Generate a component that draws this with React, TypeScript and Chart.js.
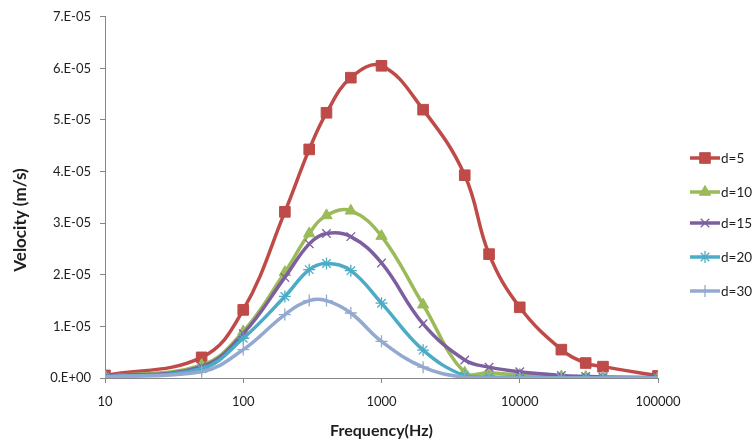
import React, { useEffect, useRef } from 'react';
import { Chart, registerables } from 'chart.js';
import { drawPoint } from 'chart.js/helpers';

Chart.register(...registerables);

// ---- data ----
const frequencies = [10, 50, 100, 200, 300, 400, 600, 1000, 2000, 4000, 6000, 10000, 20000, 30000, 40000, 100000];
const seriesLabels = ['d=5', 'd=10', 'd=15', 'd=20', 'd=30'];
const d5 = [0.05e-5, 0.4e-5, 1.32e-5, 3.22e-5, 4.43e-5, 5.14e-5, 5.82e-5, 6.05e-5, 5.2e-5, 3.93e-5, 2.4e-5, 1.37e-5, 0.55e-5, 0.29e-5, 0.22e-5, 0.04e-5];
const d10 = [0.03e-5, 0.25e-5, 0.9e-5, 2.05e-5, 2.8e-5, 3.15e-5, 3.24e-5, 2.75e-5, 1.42e-5, 0.1e-5, 0.1e-5, 0.06e-5, 0.03e-5, 0.02e-5, 0.01e-5, 0];
const d15 = [0.03e-5, 0.22e-5, 0.86e-5, 1.95e-5, 2.6e-5, 2.8e-5, 2.74e-5, 2.23e-5, 1.05e-5, 0.35e-5, 0.21e-5, 0.12e-5, 0.05e-5, 0.03e-5, 0.02e-5, 0.01e-5];
const d20 = [0.02e-5, 0.18e-5, 0.77e-5, 1.58e-5, 2.1e-5, 2.22e-5, 2.08e-5, 1.45e-5, 0.54e-5, 0.04e-5, 0.02e-5, 0.01e-5, 0, 0, 0, 0];
const d30 = [0.02e-5, 0.12e-5, 0.55e-5, 1.23e-5, 1.5e-5, 1.5e-5, 1.26e-5, 0.71e-5, 0.21e-5, 0.01e-5, 0, 0, 0, 0, 0, 0];
const seriesValues = [d5, d10, d15, d20, d30];
const xTickValues = [10, 100, 1000, 10000, 100000];
const yMin = 0;
const yMax = 7e-5;
const yStep = 1e-5;
const xTitle = 'Frequency(Hz)';
const yTitle = 'Velocity (m/s)';

// ---- styles ----
const colors = ['#BE4B48', '#9BBB59', '#7D5FA0', '#4BACC6', '#93A9D0'];
const pointStyles = ['rect', 'triangle', 'crossRot', 'star', 'cross'];
const pointRadii = [7.5, 6.5, 6, 6, 6];
const pointBorderWidths = [1, 1, 1.3, 1.3, 1.3];
const legendYs = [158, 192, 223, 257, 291];
const FONT = 'Lato, "Open Sans", sans-serif';
const TEXT = '#1e1e1e';
const AXIS = '#868686';

function sciLabel(v: number): string {
  if (Math.abs(v) < 1e-12) return '0.E+00';
  const e = Math.floor(Math.log10(Math.abs(v)) + 1e-9);
  const m = Math.round(v / Math.pow(10, e));
  const sign = e < 0 ? '-' : '+';
  const ae = Math.abs(e);
  return `${m}.E${sign}${ae < 10 ? '0' + ae : ae}`;
}

const legendPlugin = {
  id: 'excelLegend',
  afterDraw(chart: any) {
    const ctx = chart.ctx as CanvasRenderingContext2D;
    chart.data.datasets.forEach((ds: any, i: number) => {
      const y = legendYs[i];
      ctx.save();
      ctx.strokeStyle = ds.borderColor;
      ctx.lineWidth = 3.5;
      ctx.beginPath();
      ctx.moveTo(690, y);
      ctx.lineTo(720, y);
      ctx.stroke();
      ctx.fillStyle = ds.pointBackgroundColor;
      ctx.strokeStyle = ds.pointBorderColor;
      ctx.lineWidth = ds.pointBorderWidth;
      drawPoint(ctx, { pointStyle: ds.pointStyle, rotation: 0, radius: ds.pointRadius, borderWidth: ds.pointBorderWidth } as any, 705, y);
      ctx.fillStyle = TEXT;
      ctx.font = `13.5px ${FONT}`;
      ctx.textBaseline = 'middle';
      ctx.textAlign = 'left';
      ctx.fillText(ds.label, 721, y + 1);
      ctx.restore();
    });
    // vertical axis title
    ctx.save();
    ctx.translate(21, 220);
    ctx.rotate(-Math.PI / 2);
    ctx.fillStyle = TEXT;
    ctx.font = `bold 17px ${FONT}`;
    ctx.textAlign = 'center';
    ctx.textBaseline = 'middle';
    ctx.fillText(yTitle, 0, 0);
    ctx.restore();
  },
};

export default function App() {
  const canvasRef = useRef<HTMLCanvasElement | null>(null);

  useEffect(() => {
    document.body.style.margin = '0';
    const canvas = canvasRef.current;
    if (!canvas) return;
    const datasets = seriesLabels.map((label, i) => ({
      label,
      data: frequencies.map((f, j) => ({ x: f, y: seriesValues[i][j] })),
      borderColor: colors[i],
      backgroundColor: colors[i],
      pointBackgroundColor: colors[i],
      pointBorderColor: colors[i],
      pointStyle: pointStyles[i],
      pointRadius: pointRadii[i],
      pointBorderWidth: pointBorderWidths[i],
      borderWidth: 3.5,
      tension: 0.4,
      fill: false,
      order: seriesLabels.length - i,
    }));

    const chart = new Chart(canvas, {
      type: 'line',
      data: { datasets },
      plugins: [legendPlugin],
      options: {
        animation: false,
        responsive: false,
        devicePixelRatio: 1,
        layout: { padding: { top: 13, right: 755 - 658, bottom: 0, left: 0 } },
        plugins: {
          legend: { display: false },
          tooltip: { enabled: false },
        },
        scales: {
          x: {
            type: 'logarithmic',
            min: 10,
            max: 100000,
            afterBuildTicks: (scale: any) => {
              scale.ticks = xTickValues.map((v) => ({ value: v }));
            },
            afterFit: (scale: any) => {
              scale.height = 445 - 378;
            },
            grid: { drawOnChartArea: false, drawTicks: true, tickLength: 5, color: AXIS },
            border: { color: AXIS, width: 1 },
            ticks: {
              color: TEXT,
              font: { family: FONT, size: 13 },
              padding: 11,
              maxRotation: 0,
              autoSkip: false,
              callback: (v: any) => String(v),
            },
            title: {
              display: true,
              text: xTitle,
              color: TEXT,
              font: { family: FONT, size: 16, weight: 'bold' },
              padding: { top: 0, bottom: 5 },
            },
          },
          y: {
            type: 'linear',
            min: yMin,
            max: yMax,
            afterFit: (scale: any) => {
              scale.width = 105;
            },
            grid: { drawOnChartArea: false, drawTicks: true, tickLength: 5, color: AXIS },
            border: { color: AXIS, width: 1 },
            ticks: {
              stepSize: yStep,
              color: TEXT,
              font: { family: FONT, size: 13 },
              padding: 9,
              callback: (v: any) => sciLabel(Number(v)),
            },
            title: { display: false },
          },
        },
      } as any,
    });
    return () => chart.destroy();
  }, []);

  return (
    <div style={{ position: 'absolute', left: 0, top: 0, width: 755, height: 445, background: '#fff' }}>
      <canvas ref={canvasRef} width={755} height={445} />
    </div>
  );
}
